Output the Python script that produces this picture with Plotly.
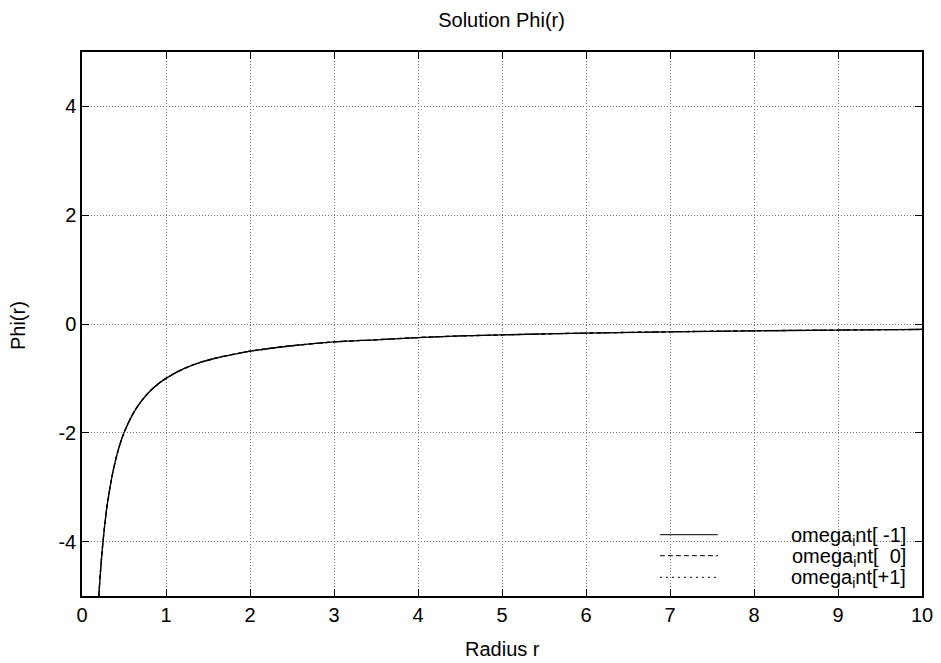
import plotly.graph_objects as go

# Radius samples and Phi(r) values (three overlapping series)
r_vals = [0.2, 0.22, 0.25, 0.28, 0.3, 0.35, 0.4, 0.45, 0.5, 0.6, 0.7, 0.8, 0.9, 1.0,
          1.2, 1.4, 1.6, 1.8, 2.0, 2.5, 3.0, 3.5, 4.0, 4.5, 5.0, 6.0, 7.0, 8.0, 9.0, 10.0]
phi_m1 = [-5.0, -4.55, -4.0, -3.57, -3.33, -2.86, -2.5, -2.22, -2.0, -1.67, -1.43, -1.25, -1.11, -1.0,
          -0.83, -0.71, -0.625, -0.56, -0.5, -0.4, -0.33, -0.29, -0.25, -0.22, -0.2, -0.167, -0.143, -0.125, -0.111, -0.1]
phi_0 = [-5.0, -4.55, -4.0, -3.57, -3.33, -2.86, -2.5, -2.22, -2.0, -1.67, -1.43, -1.25, -1.11, -1.0,
         -0.83, -0.71, -0.625, -0.56, -0.5, -0.4, -0.33, -0.29, -0.25, -0.22, -0.2, -0.167, -0.143, -0.125, -0.111, -0.1]
phi_p1 = [-5.0, -4.55, -4.0, -3.57, -3.33, -2.86, -2.5, -2.22, -2.0, -1.67, -1.43, -1.25, -1.11, -1.0,
          -0.83, -0.71, -0.625, -0.56, -0.5, -0.4, -0.33, -0.29, -0.25, -0.22, -0.2, -0.167, -0.143, -0.125, -0.111, -0.1]

series_names = ["omega<sub>i</sub>nt[ -1]", "omega<sub>i</sub>nt[  0]", "omega<sub>i</sub>nt[+1]"]
series_vals = [phi_m1, phi_0, phi_p1]
series_dash = ["solid", "5px,3px", "2px,4px"]

x_ticks = list(range(0, 11))
x_ticktext = [str(v) for v in x_ticks]
y_ticks = [-4, -2, 0, 2, 4]
y_ticktext = ["-4", "-2", "0", "2", "4"]

FONT = "Liberation Sans, Arial, Helvetica, sans-serif"
FS = 20
fig = go.Figure()
for name, vals, dash in zip(series_names, series_vals, series_dash):
    fig.add_trace(go.Scatter(x=r_vals, y=vals, mode="lines", name=name,
                             line=dict(color="black", width=1.3, dash=dash, shape="spline"),
                             showlegend=False))

# Manual gnuplot-style legend
fig.add_shape(type="rect", xref="paper", yref="paper", x0=0.67, x1=0.993, y0=0.012, y1=0.128,
              fillcolor="white", line=dict(width=0), layer="between")
line_y = [0.1127, 0.0741, 0.0344]
text_y = [0.1158, 0.0754, 0.0386]
for name, dash, ly, ty in zip(series_names, series_dash, line_y, text_y):
    fig.add_shape(type="line", xref="paper", yref="paper", x0=0.688, x1=0.757, y0=ly, y1=ly,
                  line=dict(color="black", width=1, dash=dash))
    fig.add_annotation(xref="paper", yref="paper", x=0.983, y=ty, text=name, showarrow=False,
                       xanchor="right", yanchor="middle", yshift=-3,
                       font=dict(size=FS, color="black", family=FONT))

# Axis titles
fig.add_annotation(xref="paper", yref="paper", x=0.501, y=-0.0974, text="Radius r", showarrow=False,
                   xanchor="center", yanchor="middle", font=dict(size=FS, color="black", family=FONT))
fig.add_annotation(xref="paper", yref="paper", x=-0.0762, y=0.498, text="Phi(r)", showarrow=False,
                   textangle=-90, xanchor="center", yanchor="middle",
                   font=dict(size=FS, color="black", family=FONT))

axis_common = dict(showline=True, linecolor="black", linewidth=1.5, mirror="ticks",
                   ticks="inside", ticklen=7, tickcolor="black", tickwidth=1,
                   showgrid=True, gridcolor="#777777", griddash="1px,2px", gridwidth=1,
                   zeroline=False, automargin=False,
                   tickfont=dict(size=FS, color="black", family=FONT))

fig.update_layout(
    width=941, height=663,
    margin=dict(l=82, r=19, t=52, b=67),
    plot_bgcolor="white", paper_bgcolor="white",
    title=dict(text="Solution Phi(r)", x=0.533, xanchor="center", y=0.97, yanchor="middle",
               automargin=False, font=dict(size=FS, color="black", family=FONT)),
    xaxis=dict(range=[0, 10], tickvals=x_ticks, ticktext=x_ticktext, **axis_common),
    yaxis=dict(range=[-5, 5], tickvals=y_ticks, ticktext=y_ticktext, **axis_common),
)

fig.write_html("out.html", config={"displayModeBar": False},
               post_script="document.body.style.margin='0';document.body.style.overflow='hidden';")
